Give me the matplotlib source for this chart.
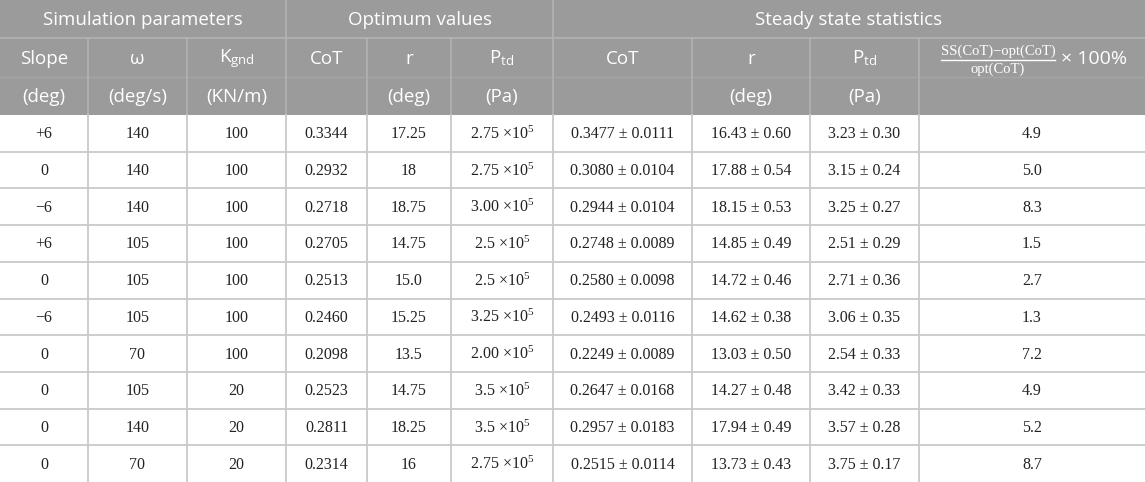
import matplotlib
matplotlib.use("Agg")
import matplotlib.pyplot as plt

plt.rcParams["mathtext.fontset"] = "custom"
plt.rcParams["mathtext.rm"] = "Liberation Serif"
plt.rcParams["mathtext.it"] = "Liberation Serif:italic"
plt.rcParams["mathtext.sf"] = "Open Sans"

# table content
group_titles = ["Simulation parameters", "Optimum values", "Steady state statistics"]
col_titles = ["Slope", "ω", "K$_{\\mathsf{gnd}}$", "CoT", "r", "P$_{\\mathsf{td}}$", "CoT", "r", "P$_{\\mathsf{td}}$", ""]
col_units = ["(deg)", "(deg/s)", "(KN/m)", "", "(deg)", "(Pa)", "", "(deg)", "(Pa)", ""]

slope = ["+6", "0", "\u22126", "+6", "0", "\u22126", "0", "0", "0", "0"]
omega = ["140", "140", "140", "105", "105", "105", "70", "105", "140", "70"]
k_gnd = ["100", "100", "100", "100", "100", "100", "100", "20", "20", "20"]
opt_cot = ["0.3344", "0.2932", "0.2718", "0.2705", "0.2513", "0.2460", "0.2098", "0.2523", "0.2811", "0.2314"]
opt_r = ["17.25", "18", "18.75", "14.75", "15.0", "15.25", "13.5", "14.75", "18.25", "16"]
opt_ptd = ["2.75", "2.75", "3.00", "2.5", "2.5", "3.25", "2.00", "3.5", "3.5", "2.75"]
ss_cot = ["0.3477 ± 0.0111", "0.3080 ± 0.0104", "0.2944 ± 0.0104", "0.2748 ± 0.0089", "0.2580 ± 0.0098",
          "0.2493 ± 0.0116", "0.2249 ± 0.0089", "0.2647 ± 0.0168", "0.2957 ± 0.0183", "0.2515 ± 0.0114"]
ss_r = ["16.43 ± 0.60", "17.88 ± 0.54", "18.15 ± 0.53", "14.85 ± 0.49", "14.72 ± 0.46",
        "14.62 ± 0.38", "13.03 ± 0.50", "14.27 ± 0.48", "17.94 ± 0.49", "13.73 ± 0.43"]
ss_ptd = ["3.23 ± 0.30", "3.15 ± 0.24", "3.25 ± 0.27", "2.51 ± 0.29", "2.71 ± 0.36",
          "3.06 ± 0.35", "2.54 ± 0.33", "3.42 ± 0.33", "3.57 ± 0.28", "3.75 ± 0.17"]
pct_diff = ["4.9", "5.0", "8.3", "1.5", "2.7", "1.3", "7.2", "4.9", "5.2", "8.7"]

# layout (pixels)
W, H = 1145, 482
col_edges = [0, 88, 187, 286, 367, 451, 553, 692, 810, 919, 1145]
group_spans = [(0, 3), (3, 6), (6, 10)]
head_rows = [0, 38, 77, 115]
row_h = (H - head_rows[-1]) / len(slope)

head_bg = "#9b9b9b"
head_line = "#b2b2b2"
grid = "#c9c9c9"
sans = "Open Sans"
serif = "Liberation Serif"

fig = plt.figure(figsize=(W / 100, H / 100), dpi=100)
ax = fig.add_axes([0, 0, 1, 1])
ax.set_xlim(0, W)
ax.set_ylim(H, 0)
ax.axis("off")

ax.add_patch(plt.Rectangle((0, 0), W, head_rows[-1], color=head_bg, lw=0, zorder=0))

# header lines
ax.plot([0, W], [head_rows[1]] * 2, color=head_line, lw=1.2)
ax.plot([0, W], [head_rows[2]] * 2, color="#a6a6a6", lw=1.0)
for a, b in group_spans[1:]:
    x = col_edges[a]
    ax.plot([x, x], [0, head_rows[1]], color=head_line, lw=1.2)
for x in col_edges[1:-1]:
    ax.plot([x, x], [head_rows[1], head_rows[-1]], color=head_line, lw=1.2)

cx = [(col_edges[i] + col_edges[i + 1]) / 2 for i in range(len(col_edges) - 1)]

for (a, b), title in zip(group_spans, group_titles):
    ax.text((col_edges[a] + col_edges[b]) / 2, head_rows[1] / 2 + 1, title, ha="center", va="center",
            color="white", fontsize=13.5, family=sans)

for i, (t, u) in enumerate(zip(col_titles, col_units)):
    if t:
        ax.text(cx[i], (head_rows[1] + head_rows[2]) / 2 + 1, t, ha="center", va="center",
                color="white", fontsize=13.5, family=sans)
    if u:
        ax.text(cx[i], (head_rows[2] + head_rows[3]) / 2 + 1, u, ha="center", va="center",
                color="white", fontsize=13.5, family=sans)

# last header cell: fraction times 100%
ym = (head_rows[1] + head_rows[2]) / 2
fx = 998
ax.text(fx, ym - 6, "SS(CoT)\u2212opt(CoT)", ha="center", va="center", color="white", fontsize=10.5, family=serif)
ax.plot([fx - 57, fx + 57], [ym + 2, ym + 2], color="white", lw=1.0)
ax.text(fx, ym + 12, "opt(CoT)", ha="center", va="center", color="white", fontsize=10.5, family=serif)
ax.text(fx + 63, ym + 1, "\u00d7 100%", ha="left", va="center", color="white", fontsize=14, family=sans)

# body
columns = [slope, omega, k_gnd, opt_cot, opt_r,
           [p + " \u00d710$^{5}$" for p in opt_ptd], ss_cot, ss_r, ss_ptd, pct_diff]
for r in range(len(slope)):
    y0 = head_rows[-1] + r * row_h
    if r > 0:
        ax.plot([0, W], [y0, y0], color=grid, lw=1.3)
    for c, col in enumerate(columns):
        ax.text(cx[c], y0 + row_h / 2 + 1, col[r], ha="center", va="center",
                color="#222222", fontsize=11.5, family=serif)
for x in col_edges[1:-1]:
    ax.plot([x, x], [head_rows[-1], H], color=grid, lw=1.3)

fig.savefig("out.png", dpi=100)
